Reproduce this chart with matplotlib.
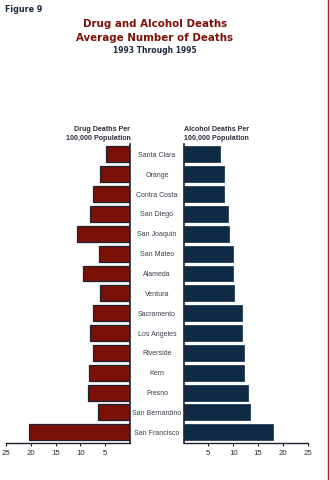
import numpy as np
import matplotlib.pyplot as plt

counties = ["Santa Clara", "Orange", "Contra Costa", "San Diego", "San Joaquin",
            "San Mateo", "Alameda", "Ventura", "Sacramento", "Los Angeles",
            "Riverside", "Kern", "Fresno", "San Bernardino", "San Francisco"]
drug = [4.8, 6.0, 7.5, 8.1, 10.7, 6.3, 9.5, 6.0, 7.4, 8.1, 7.4, 8.3, 8.5, 6.4, 20.4]
alcohol = [7.4, 8.2, 8.2, 9.0, 9.2, 10.0, 10.0, 10.2, 11.8, 11.8, 12.2, 12.2, 13.0, 13.4, 18.1]
ticks = [5, 10, 15, 20, 25]

W, H = 330, 481
fig = plt.figure(figsize=(W / 100, H / 100), dpi=100)
fig.patch.set_facecolor('white')

red = '#7b1007'
navy = '#0e2a44'
edge = '#1e2230'
txt = '#2b2f3a'
sans = ['Liberation Sans', 'DejaVu Sans']

y = np.arange(len(counties))
bot = 1 - 444 / H
ht = (444 - 145) / H

axL = fig.add_axes([6 / W, bot, 124 / W, ht])
axR = fig.add_axes([183.5 / W, bot, 124.2 / W, ht])

axL.barh(y, drug, height=0.8, color=red, edgecolor=edge, linewidth=0.9)
axR.barh(y, alcohol, height=0.8, color=navy, edgecolor=navy, linewidth=0.5)

axL.set_xlim(25, 0)
axR.set_xlim(0, 25)
for ax in (axL, axR):
    ax.set_ylim(14.54, -0.52)
    ax.set_yticks([])
    ax.set_xticks(ticks)
    ax.set_xticklabels([str(t) for t in ticks], family=sans)
    ax.tick_params(axis='x', length=2, width=0.8, color=edge, labelsize=5.6,
                   labelcolor=txt, pad=2.5)
    ax.spines['top'].set_visible(False)
    ax.spines['bottom'].set_color(edge)
    ax.spines['bottom'].set_linewidth(1.0)
    ax.set_facecolor('none')
axL.spines['left'].set_visible(False)
axL.spines['right'].set_color(edge)
axL.spines['right'].set_linewidth(1.2)
axR.spines['right'].set_visible(False)
axR.spines['left'].set_color(edge)
axR.spines['left'].set_linewidth(1.2)

# county names in the middle
for i, name in enumerate(counties):
    fig.text(157 / W, 1 - (155.3 + i * 19.86) / H, name, ha='center', va='center',
             fontsize=5.0, color='#3a3f4a', family=sans)

for line, yy in (("Drug Deaths Per", 129.5), ("100,000 Population", 138.5)):
    fig.text(130.5 / W, 1 - yy / H, line, ha='right', va='center',
             fontsize=5.1, fontweight='bold', color=txt, family=sans)
for line, yy in (("Alcohol Deaths Per", 129.5), ("100,000 Population", 138.5)):
    fig.text(184 / W, 1 - yy / H, line, ha='left', va='center',
             fontsize=5.1, fontweight='bold', color=txt, family=sans)

fig.text(5 / W, 1 - 9 / H, "Figure 9", ha='left', va='center', fontsize=5.8,
         fontweight='bold', color='#1c2a40')
fig.text(155 / W, 1 - 24 / H, "Drug and Alcohol Deaths", ha='center', va='center',
         fontsize=7.4, fontweight='heavy', color=red)
fig.text(155 / W, 1 - 38 / H, "Average Number of Deaths", ha='center', va='center',
         fontsize=7.4, fontweight='heavy', color=red)
fig.text(155 / W, 1 - 50.5 / H, "1993 Through 1995", ha='center', va='center',
         fontsize=5.5, fontweight='bold', color='#1c2a40')

# red rule at the right edge
fig.add_artist(plt.Line2D([328 / W, 328 / W], [0, 1], color='#b3262a', linewidth=1.0))

fig.savefig('out.png', dpi=100)
